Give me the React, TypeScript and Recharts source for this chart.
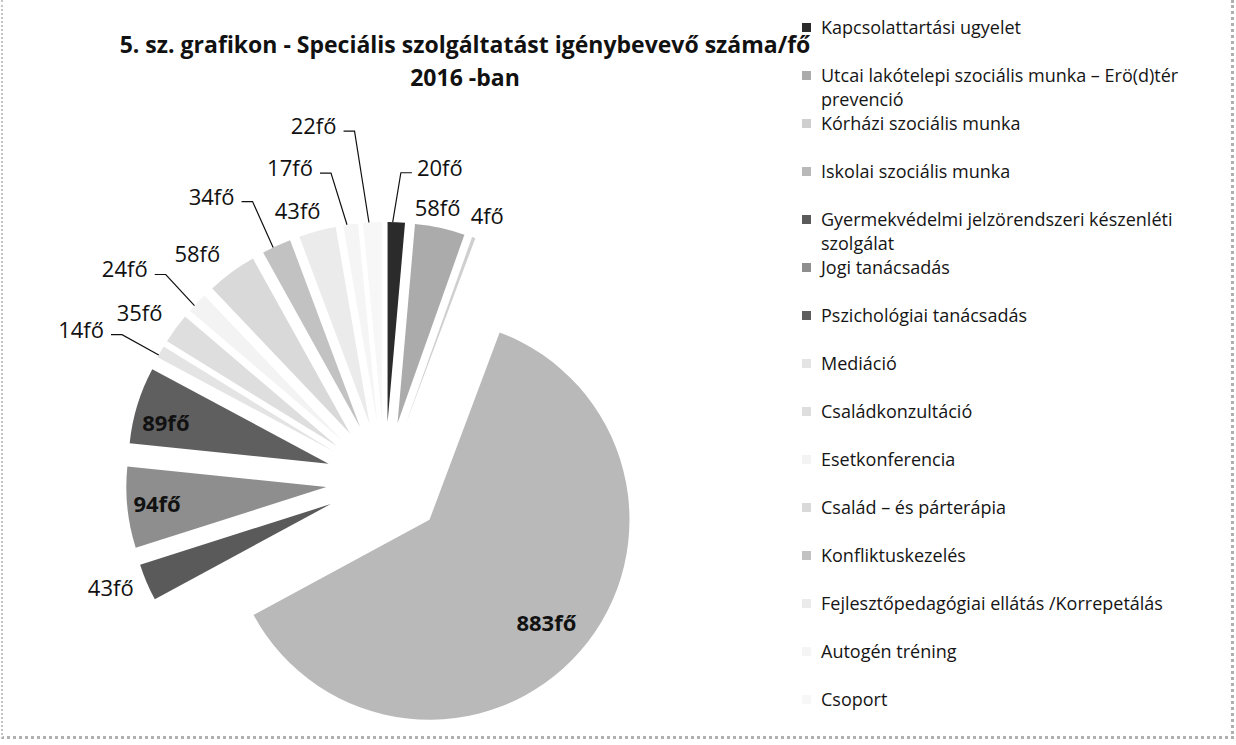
import { PieChart, Pie, Cell, Sector, Legend } from "recharts"

const services = [
  "Kapcsolattartási ugyelet",
  "Utcai lakótelepi szociális munka – Erö(d)tér prevenció",
  "Kórházi szociális munka",
  "Iskolai szociális munka",
  "Gyermekvédelmi jelzörendszeri készenléti szolgálat",
  "Jogi tanácsadás",
  "Pszichológiai tanácsadás",
  "Mediáció",
  "Családkonzultáció",
  "Esetkonferencia",
  "Család – és párterápia",
  "Konfliktuskezelés",
  "Fejlesztőpedagógiai ellátás /Korrepetálás",
  "Autogén tréning",
  "Csoport",
]

const counts = [20, 58, 4, 883, 43, 94, 89, 14, 35, 24, 58, 34, 43, 17, 22]
const unit = "fő"

// scanned greys
const fills = [
  "#2b2b2b", "#ababab", "#cfcfcf", "#b9b9b9", "#5a5a5a",
  "#8e8e8e", "#5f5f5f", "#e4e4e4", "#dedede", "#f3f3f3",
  "#d9d9d9", "#c2c2c2", "#ebebeb", "#f5f5f5", "#f7f7f7",
]

// label placement: shift from slice middle (deg, clockwise) and distance from pie centre
const labelShift = [7.4, -1.4, 1, 0, 1.9, 0.3, -1.9, -3.3, -1.5, -4.2, -3.2, -6.5, -2.7, -9.2, -8.6]
const labelDist = [319, 279, 285, 214, 294, 229, 227, 340, 298, 336, 295, 334, 285, 328, 363]
const withLeader = [true, false, false, false, false, false, false, true, false, true, false, true, false, true, true]
const insideLabel = [false, false, false, true, false, true, true, false, false, false, false, false, false, false, false]

const data = services.map((name, i) => ({ name, value: counts[i] }))

const FONT = "'Open Sans', 'DejaVu Sans', sans-serif"
const RADIUS = 200
const EXPLODE = 59
const RAD = Math.PI / 180

const polar = (cx: number, cy: number, r: number, angle: number) => ({
  x: cx + r * Math.cos(-angle * RAD),
  y: cy + r * Math.sin(-angle * RAD),
})

const ExplodedSector = (props: any) => {
  const { cx, cy, midAngle, fill, innerRadius, outerRadius, startAngle, endAngle } = props
  const off = polar(cx, cy, EXPLODE, midAngle)
  return (
    <Sector
      cx={off.x}
      cy={off.y}
      innerRadius={innerRadius}
      outerRadius={outerRadius}
      startAngle={startAngle}
      endAngle={endAngle}
      fill={fill}
      stroke="none"
    />
  )
}

const renderLabel = (props: any) => {
  const { cx, cy, midAngle, index, value } = props
  const p = polar(cx, cy, labelDist[index], midAngle - labelShift[index])
  const text = `${value}${unit}`
  const hw = (String(value).length * 13 + 22) / 2
  let leader = null
  if (withLeader[index]) {
    const tip = polar(cx, cy, EXPLODE + RADIUS, midAngle + 0.8)
    const right = p.x > cx
    const ly = p.y + 6
    const a = right ? p.x - hw - 4 : p.x + hw + 6
    const b = right ? p.x - hw - 15 : p.x + hw + 17
    leader = (
      <polyline
        points={`${a},${ly} ${b},${ly} ${tip.x},${tip.y}`}
        fill="none"
        stroke="#111"
        strokeWidth={1.2}
      />
    )
  }
  return (
    <g>
      {leader}
      <text
        x={p.x}
        y={p.y}
        textAnchor="middle"
        dominantBaseline="central"
        fontFamily={FONT}
        fontSize={22}
        fontWeight={insideLabel[index] ? 700 : 400}
        fill="#111"
      >
        {text}
      </text>
    </g>
  )
}

const renderLegend = (props: any) => {
  const { payload = [] } = props
  return (
    <div style={{ fontFamily: FONT, fontSize: 18, color: "#151515" }}>
      {payload.map((entry: any, i: number) => (
        <div key={i} style={{ display: "flex", alignItems: "flex-start", height: 48 }}>
          <span
            style={{
              width: 9,
              height: 9,
              marginTop: 8,
              marginRight: 10,
              flex: "none",
              background: entry.color,
            }}
          />
          <span style={{ lineHeight: "24px", width: 395 }}>{entry.value}</span>
        </div>
      ))}
    </div>
  )
}

export default function App() {
  return (
    <div style={{ position: "absolute", left: 0, top: 0, width: 1236, height: 745, background: "#fff" }}>
      <div
        style={{
          position: "absolute",
          left: 1,
          top: 0,
          width: 1228,
          height: 736,
          borderLeft: "2px dotted #c4c4c4",
          borderRight: "3px dotted #b0b0b0",
          borderBottom: "3px dotted #b0b0b0",
        }}
      />
      <div
        style={{
          position: "absolute",
          left: 0,
          top: 28,
          width: 930,
          textAlign: "center",
          fontFamily: FONT,
          fontWeight: 700,
          fontSize: 23,
          lineHeight: "33px",
          color: "#111",
        }}
      >
        5. sz. grafikon - Speciális szolgáltatást igénybevevő száma/fő
        <br />
        2016 -ban
      </div>
      <PieChart width={1236} height={745} margin={{ top: 0, right: 0, bottom: 0, left: 0 }}>
        <Pie
          data={data}
          dataKey="value"
          nameKey="name"
          cx={385}
          cy={481}
          outerRadius={RADIUS}
          startAngle={90}
          endAngle={-270}
          stroke="none"
          shape={ExplodedSector}
          label={renderLabel}
          labelLine={false}
          isAnimationActive={false}
        >
          {data.map((d, i) => (
            <Cell key={d.name} fill={fills[i]} />
          ))}
        </Pie>
        <Legend
          layout="vertical"
          verticalAlign="top"
          align="right"
          content={renderLegend}
          itemSorter={(item: any) => services.indexOf(item.value)}
          wrapperStyle={{ position: "absolute", left: 802, top: 15, width: 430 }}
        />
      </PieChart>
    </div>
  )
}
